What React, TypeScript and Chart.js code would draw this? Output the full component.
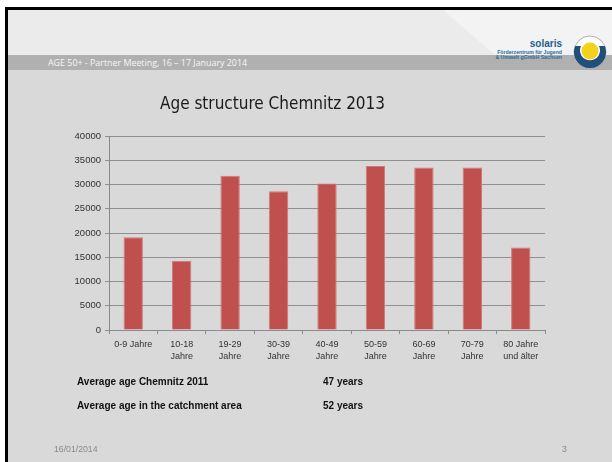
import React, { useEffect, useRef } from "react";
import { Chart, registerables } from "chart.js";

Chart.register(...registerables);

const categories: (string | string[])[] = [
  "0-9 Jahre",
  ["10-18", "Jahre"],
  ["19-29", "Jahre"],
  ["30-39", "Jahre"],
  ["40-49", "Jahre"],
  ["50-59", "Jahre"],
  ["60-69", "Jahre"],
  ["70-79", "Jahre"],
  ["80 Jahre", "und älter"],
];
const population = [19100, 14300, 31800, 28600, 30200, 33800, 33500, 33500, 17000];
const yMin = 0;
const yMax = 40000;
const yStep = 5000;

const titleText = "Age structure Chemnitz 2013";
const headerText = "AGE 50+ - Partner Meeting, 16 – 17 January 2014";
const infoLabels = ["Average age Chemnitz 2011", "Average age in the catchment area"];
const infoValues = ["47 years", "52 years"];
const footerDate = "16/01/2014";
const pageNumber = "3";

export default function App() {
  const canvasRef = useRef<HTMLCanvasElement | null>(null);

  useEffect(() => {
    if (!canvasRef.current) return;
    const chart = new Chart(canvasRef.current, {
      type: "bar",
      data: {
        labels: categories,
        datasets: [
          {
            data: population,
            backgroundColor: "#c0504d",
            borderColor: "#cf7a77",
            borderWidth: 1,
            barPercentage: 0.4,
            categoryPercentage: 1,
          },
        ],
      },
      options: {
        responsive: false,
        animation: false,
        layout: { padding: { left: 0, right: 5, top: 81, bottom: 92 } },
        plugins: {
          legend: { display: false },
          tooltip: { enabled: false },
          title: {
            display: true,
            text: titleText,
            color: "#1a1a1a",
            font: { family: "'DejaVu Sans Condensed', sans-serif", size: 17, weight: "normal" },
            padding: { top: 13, bottom: 21.6 },
          },
        },
        scales: {
          x: {
            afterFit: (s: any) => {
              s.height = 40;
            },
            grid: {
              drawOnChartArea: false,
              drawTicks: true,
              tickLength: 4,
              color: "#8a8a8a",
              offset: true,
            },
            border: { color: "#8a8a8a", width: 1 },
            ticks: {
              color: "#333333",
              padding: 5,
              maxRotation: 0,
              autoSkip: false,
              font: { family: "'Liberation Sans', Arial, sans-serif", size: 9, lineHeight: 1.3 },
            },
          },
          y: {
            min: yMin,
            max: yMax,
            afterFit: (s: any) => {
              s.width = 109;
            },
            grid: {
              color: "#8f8f8f",
              drawTicks: true,
              tickLength: 4,
            },
            border: { color: "#8a8a8a", width: 1 },
            ticks: {
              stepSize: yStep,
              color: "#333333",
              padding: 4,
              font: { family: "'Liberation Sans', Arial, sans-serif", size: 9.5 },
              callback: (v: any) => String(v),
            },
          },
        },
      },
    });
    return () => chart.destroy();
  }, []);

  const sans = "'Liberation Sans', Arial, sans-serif";

  return (
    <div style={{ position: "fixed", left: 0, top: 0, width: 612, height: 462, background: "#ffffff", overflow: "hidden" }}>
      <div
        style={{
          position: "absolute",
          left: 5,
          top: 7,
          width: 612,
          height: 460,
          borderLeft: "3px solid #000",
          borderTop: "3px solid #000",
          background: "#d9d9d9",
        }}
      />
      <div style={{ position: "absolute", left: 8, top: 10, width: 604, height: 45, background: "#ebebeb" }} />
      <div
        style={{
          position: "absolute",
          left: 8,
          top: 10,
          width: 604,
          height: 45,
          background: "#f3f3f3",
          clipPath: "polygon(435px 0, 604px 0, 604px 45px, 487px 45px)",
        }}
      />
      <div style={{ position: "absolute", left: 8, top: 55, width: 604, height: 15, background: "#b0b0b0" }} />
      <div
        style={{
          position: "absolute",
          left: 48,
          top: 55,
          height: 15,
          lineHeight: "15px",
          fontFamily: "'Open Sans', sans-serif",
          fontSize: 8.9,
          color: "#f6f6f6",
          whiteSpace: "nowrap",
        }}
      >
        {headerText}
      </div>
      <div
        style={{
          position: "absolute",
          right: 50,
          top: 38,
          fontFamily: sans,
          fontWeight: "bold",
          fontSize: 10,
          color: "#23608e",
          textAlign: "right",
          whiteSpace: "nowrap",
        }}
      >
        solaris
      </div>
      <div
        style={{
          position: "absolute",
          right: 50,
          top: 50,
          fontFamily: sans,
          fontWeight: "bold",
          fontSize: 5.2,
          lineHeight: "5px",
          color: "#2b6c9c",
          textAlign: "right",
          whiteSpace: "nowrap",
        }}
      >
        Förderzentrum für Jugend
        <br />& Umwelt gGmbH Sachsen
      </div>
      <svg style={{ position: "absolute", left: 572, top: 34 }} width={36} height={36} viewBox="0 0 36 36">
        <circle cx={18} cy={18} r={16} fill="#ffffff" stroke="#9a9a9a" strokeWidth={0.8} />
        <path d="M 3.2 12 A 16 16 0 1 0 32.8 12 L 27 12 A 10 10 0 1 1 9 12 Z" fill="#1f4f7a" />
        <circle cx={18} cy={17} r={8.5} fill="#f3d21b" />
      </svg>
      <canvas
        ref={canvasRef}
        width={550}
        height={462}
        style={{ position: "absolute", left: 0, top: 0, width: 550, height: 462 }}
      />
      {infoLabels.map((t, i) => (
        <React.Fragment key={t}>
          <div
            style={{
              position: "absolute",
              left: 77,
              top: 376 + i * 24,
              fontFamily: sans,
              fontWeight: "bold",
              fontSize: 10,
              lineHeight: "12px",
              color: "#111",
              whiteSpace: "nowrap",
            }}
          >
            {t}
          </div>
          <div
            style={{
              position: "absolute",
              left: 323,
              top: 376 + i * 24,
              fontFamily: sans,
              fontWeight: "bold",
              fontSize: 10,
              lineHeight: "12px",
              color: "#111",
              whiteSpace: "nowrap",
            }}
          >
            {infoValues[i]}
          </div>
        </React.Fragment>
      ))}
      <div
        style={{
          position: "absolute",
          left: 54,
          top: 443,
          fontFamily: sans,
          fontSize: 8.7,
          lineHeight: "12px",
          color: "#8a8a8a",
        }}
      >
        {footerDate}
      </div>
      <div
        style={{
          position: "absolute",
          left: 562,
          top: 443,
          fontFamily: sans,
          fontSize: 8.7,
          lineHeight: "12px",
          color: "#8a8a8a",
        }}
      >
        {pageNumber}
      </div>
    </div>
  );
}
